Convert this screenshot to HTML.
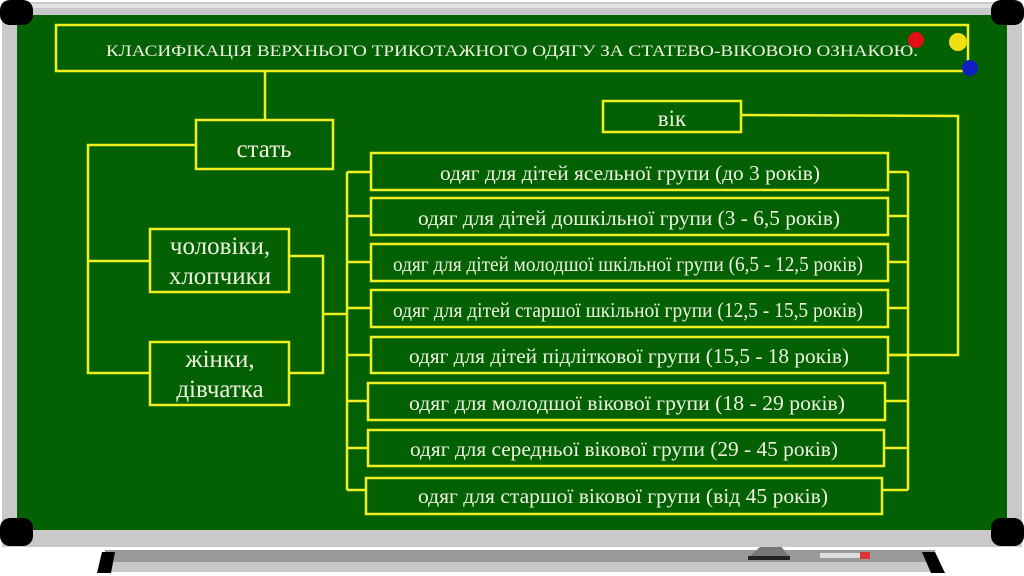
<!DOCTYPE html>
<html><head><meta charset="utf-8"><style>
html,body{margin:0;padding:0;background:#fff;width:1024px;height:576px;overflow:hidden}
svg text{font-family:"Liberation Serif",serif;fill:#eef3e0}
</style></head><body>
<svg width="1024" height="576" viewBox="0 0 1024 576" xmlns="http://www.w3.org/2000/svg">
<rect x="105" y="550" width="830" height="22" fill="#c8c8c8"/>
<rect x="105" y="550" width="830" height="12" fill="#9a9a9a"/>
<polygon points="102,552 115,552 111,573 97,573" fill="#000"/>
<polygon points="922,552 935,552 945,573 931,573" fill="#000"/>
<polygon points="762,545 780,545 790,558 748,558" fill="#777"/>
<rect x="748" y="556" width="42" height="4" fill="#222"/>
<rect x="820" y="553" width="40" height="5" fill="#ddd"/><rect x="860" y="552" width="10" height="7" fill="#d33"/>
<rect x="2" y="2" width="1020" height="545" fill="#c9c9c9"/>
<rect x="4" y="4" width="1016" height="4" fill="#e2e2e2"/>
<rect x="17" y="15" width="990" height="515" fill="#036003"/>
<rect x="0" y="0" width="33" height="25" rx="10" fill="#000"/>
<rect x="991" y="0" width="33" height="25" rx="10" fill="#000"/>
<rect x="0" y="518" width="33" height="28" rx="10" fill="#000"/>
<rect x="991" y="518" width="33" height="28" rx="10" fill="#000"/>
<g stroke="#f0f020" stroke-width="2.5" fill="none">
<rect x="56" y="25" width="912" height="46"/>
<line x1="265" y1="71" x2="265" y2="120"/>
<rect x="196" y="120" width="137" height="49"/>
<polyline points="196,145 88,145 88,373 150,373"/>
<line x1="88" y1="261" x2="150" y2="261"/>
<rect x="150" y="229" width="139" height="63"/>
<rect x="150" y="342" width="139" height="63"/>
<polyline points="289,256 323,256 323,373 289,373"/>
<line x1="323" y1="314" x2="347" y2="314"/>
<rect x="603" y="101" width="138" height="31"/>
<polyline points="741,115 958,116 958,355 888,355"/>
<line x1="347" y1="172" x2="347" y2="490"/>
<line x1="908" y1="172" x2="908" y2="490"/>
<rect x="371" y="153" width="517" height="37"/><line x1="347" y1="172" x2="371" y2="172"/><line x1="888" y1="172" x2="908" y2="172"/>
<rect x="371" y="198" width="517" height="37"/><line x1="347" y1="216" x2="371" y2="216"/><line x1="888" y1="216" x2="908" y2="216"/>
<rect x="371" y="244" width="517" height="37"/><line x1="347" y1="262" x2="371" y2="262"/><line x1="888" y1="262" x2="908" y2="262"/>
<rect x="371" y="290" width="517" height="37"/><line x1="347" y1="308" x2="371" y2="308"/><line x1="888" y1="308" x2="908" y2="308"/>
<rect x="371" y="337" width="517" height="36"/><line x1="347" y1="355" x2="371" y2="355"/><line x1="888" y1="355" x2="908" y2="355"/>
<rect x="368" y="383" width="517" height="37"/><line x1="347" y1="401" x2="368" y2="401"/><line x1="885" y1="401" x2="908" y2="401"/>
<rect x="368" y="430" width="516" height="36"/><line x1="347" y1="448" x2="368" y2="448"/><line x1="884" y1="448" x2="908" y2="448"/>
<rect x="366" y="478" width="516" height="36"/><line x1="347" y1="490" x2="366" y2="490"/><line x1="882" y1="490" x2="908" y2="490"/>
</g>
<circle cx="916" cy="40" r="8" fill="#e01010"/>
<circle cx="958" cy="42" r="9" fill="#f0e010"/>
<circle cx="970" cy="68" r="8" fill="#1020c0"/>
<text x="106" y="56" font-size="16" textLength="812" lengthAdjust="spacingAndGlyphs">КЛАСИФІКАЦІЯ ВЕРХНЬОГО ТРИКОТАЖНОГО ОДЯГУ ЗА СТАТЕВО-ВІКОВОЮ ОЗНАКОЮ.</text>
<text x="264" y="157" font-size="25" text-anchor="middle">стать</text>
<text x="220" y="254" font-size="25" text-anchor="middle">чоловіки,</text>
<text x="220" y="284" font-size="25" text-anchor="middle">хлопчики</text>
<text x="220" y="367" font-size="25" text-anchor="middle">жінки,</text>
<text x="220" y="397" font-size="25" text-anchor="middle">дівчатка</text>
<text x="672" y="126" font-size="23" text-anchor="middle">вік</text>
<g font-size="21">
<text x="440" y="180" textLength="380" lengthAdjust="spacingAndGlyphs">одяг для дітей ясельної групи (до 3 років)</text>
<text x="418" y="225" textLength="422" lengthAdjust="spacingAndGlyphs">одяг для дітей дошкільної групи (3 - 6,5 років)</text>
<text x="393" y="271" textLength="470" lengthAdjust="spacingAndGlyphs">одяг для дітей  молодшої шкільної групи (6,5 - 12,5 років)</text>
<text x="393" y="317" textLength="470" lengthAdjust="spacingAndGlyphs">одяг для дітей  старшої шкільної групи (12,5 - 15,5 років)</text>
<text x="409" y="363" textLength="440" lengthAdjust="spacingAndGlyphs">одяг для дітей підліткової групи (15,5 - 18 років)</text>
<text x="409" y="410" textLength="436" lengthAdjust="spacingAndGlyphs">одяг  для молодшої вікової групи (18 - 29 років)</text>
<text x="410" y="456" textLength="428" lengthAdjust="spacingAndGlyphs">одяг для середньої вікової групи (29 - 45 років)</text>
<text x="418" y="503" textLength="410" lengthAdjust="spacingAndGlyphs">одяг  для старшої вікової групи (від 45 років)</text>
</g>
</svg>
</body></html>
